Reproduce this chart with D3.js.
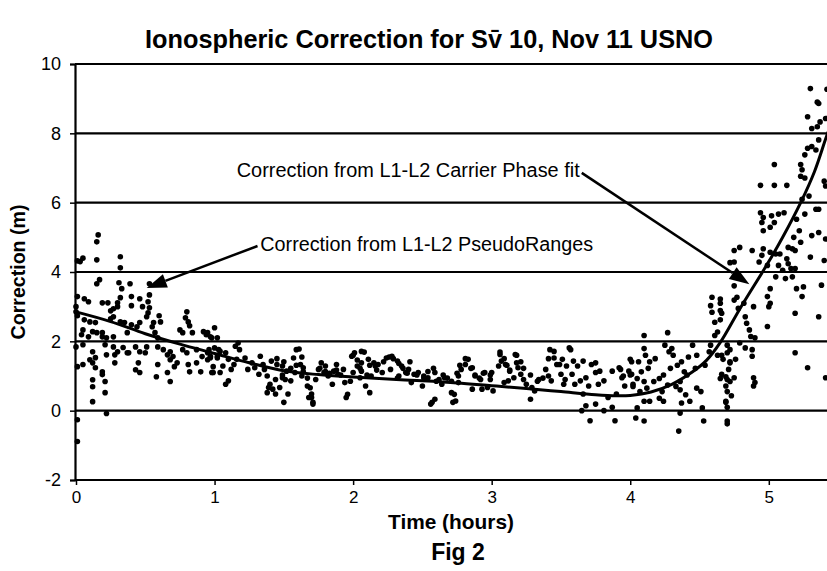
<!DOCTYPE html>
<html>
<head>
<meta charset="utf-8">
<script src="https://cdn.jsdelivr.net/npm/d3@7"></script>
<style>
  body { margin: 0; background: #fff; }
  svg { display: block; font-family: Arial, "Liberation Sans", sans-serif; }
</style>
</head>
<body>
<div id="chart"></div>
<script>
// axis ticks
var xTicks = [0, 1, 2, 3, 4, 5];
var yTicks = [-2, 0, 2, 4, 6, 8, 10];

// carrier phase fit (hours, metres)
var fitTimes  = [0, 0.25, 0.5, 0.75, 1, 1.25, 1.5, 1.75, 2, 2.25, 2.5, 2.75, 3, 3.25, 3.5, 3.75, 3.9, 4, 4.15, 4.3, 4.45, 4.55, 4.65, 4.8, 5, 5.1, 5.23, 5.33, 5.42, 5.5];
var fitValues = [2.85, 2.57, 2.22, 1.92, 1.65, 1.38, 1.15, 1.04, 0.97, 0.91, 0.86, 0.8, 0.72, 0.64, 0.55, 0.46, 0.43, 0.44, 0.54, 0.76, 1.12, 1.45, 1.97, 3.0, 4.3, 5.0, 6.0, 6.9, 7.95, 8.8];

// L1-L2 pseudorange corrections, [hours, metres]
var pseudoRangeHour0 = [
  [0.16,5.07],[0.15,4.87],[0.05,4.40],[0.03,4.30],[0.01,4.32],[0.15,4.35],[0.32,4.44],[0.32,4.12],[0.17,3.78],[0.15,3.66],
  [0.31,3.69],[0.39,3.66],[0.33,3.52],[0.53,3.66],[0.53,3.34],[0.01,3.29],[0.06,3.23],[0.09,3.14],[0.19,3.11],[0.23,3.11],
  [0.32,3.26],[0.30,3.11],[0.30,3.00],[0.27,2.94],[0.25,2.88],[0.40,3.29],[0.46,3.23],[0.40,3.03],[0.48,3.00],[0.52,3.14],
  [0.53,2.97],[0.52,2.82],[0.51,2.71],[0.00,3.00],[0.00,2.85],[0.01,2.74],[0.60,2.74],[0.61,2.56],[0.56,2.54],[0.55,2.42],
  [0.80,2.85],[0.79,2.68],[0.81,2.56],[0.82,2.45],[0.27,2.71],[0.25,2.65],[0.06,2.62],[0.10,2.56],[0.14,2.54],[0.32,2.56],
  [0.35,2.54],[0.40,2.48],[0.44,2.42],[0.46,2.54],[0.05,2.33],[0.12,2.28],[0.15,2.25],[0.19,2.25],[0.04,2.19],[0.09,2.13],
  [0.37,2.25],[0.27,2.13],[0.22,2.10],[0.19,2.13],[0.57,2.25],[0.59,2.10],[0.75,2.33],[0.77,2.25],[0.84,2.25],[0.92,2.28],
  [0.95,2.25],[1.00,2.39],[0.97,2.13],[1.02,2.10],[0.00,1.84],[0.05,1.90],[0.12,1.70],[0.21,1.90],[0.27,1.84],[0.30,1.70],
  [0.34,1.82],[0.38,1.67],[0.43,1.84],[0.46,1.70],[0.50,1.67],[0.51,1.84],[0.59,1.84],[0.63,1.76],[0.66,1.61],[0.68,1.47],
  [0.70,1.56],[0.73,1.38],[0.68,1.70],[0.77,1.76],[0.80,1.67],[0.87,1.76],[0.91,1.56],[0.95,1.67],[0.97,1.53],[1.02,1.56],
  [1.03,1.76],[0.01,1.27],[0.05,1.33],[0.10,1.47],[0.14,1.53],[0.12,1.38],[0.14,1.24],[0.19,1.12],[0.19,1.04],[0.21,0.84],
  [0.22,1.61],[0.28,1.61],[0.28,1.38],[0.37,1.67],[0.45,1.38],[0.43,1.18],[0.46,1.10],[0.59,1.33],[0.58,0.98],[0.66,1.10],
  [0.68,0.84],[0.71,1.27],[0.81,1.33],[0.82,1.12],[0.90,1.12],[0.87,1.38],[0.95,1.47],[0.99,1.27],[0.99,1.10],[0.12,0.89],
  [0.12,0.69],[0.12,0.26],[0.21,0.52],[0.01,-0.26],[0.22,-0.08],[0.01,-0.89]
];
var pseudoRangeHour1 = [
  [0.94,2.19],[0.98,2.10],[0.96,1.76],[1.00,1.81],[1.04,1.71],[0.97,1.57],[1.02,1.52],[1.08,1.67],[1.10,1.48],[1.15,1.86],
  [1.17,1.95],[1.18,1.76],[1.16,1.48],[0.98,1.10],[1.04,1.10],[1.10,0.86],[1.08,0.76],[1.12,1.19],[1.06,1.29],[1.14,1.33],
  [1.22,1.52],[1.27,1.38],[1.29,1.24],[1.33,1.57],[1.35,1.33],[1.38,1.00],[1.40,0.76],[1.42,0.62],[1.38,0.52],[1.44,0.48],
  [1.47,0.67],[1.50,0.24],[1.45,1.33],[1.49,1.29],[1.52,1.14],[1.41,1.43],[1.36,1.19],[1.24,1.19],[1.32,1.05],[1.51,0.90],
  [1.49,0.95],[1.44,0.90],[1.53,0.48],[1.39,0.67],[1.57,1.52],[1.59,1.76],[1.62,1.33],[1.64,1.24],[1.58,1.10],[1.63,1.00],
  [1.55,0.86],[1.67,0.71],[1.70,0.48],[1.71,0.24],[1.68,0.38],[1.75,1.19],[1.79,1.10],[1.82,1.00],[1.86,1.14],[1.89,1.05],
  [1.93,1.19],[1.77,1.38],[1.80,1.29],[1.88,1.33],[1.73,0.90],[1.85,0.76],[1.94,0.81],[1.45,1.50],[1.50,1.41],[1.55,1.22],
  [1.49,1.03],[1.61,1.78],[1.63,1.55],[1.59,1.31],[1.64,1.13],[1.67,0.94],[1.69,0.66],[1.70,0.38],[1.71,0.19],[1.76,1.22],
  [1.80,1.13],[1.83,1.08],[1.88,1.17],[1.91,1.03],[1.96,0.47],[1.98,0.85]
];
var pseudoRangeHour2 = [
  [1.99,1.57],[2.01,1.67],[2.06,1.71],[2.03,1.29],[2.06,1.38],[2.11,1.48],[2.15,1.38],[2.18,1.33],[2.24,1.52],[2.28,1.57],
  [2.32,1.43],[2.35,1.29],[2.00,1.10],[2.05,0.95],[2.09,0.71],[2.12,0.52],[1.95,0.38],[2.13,1.00],[2.21,1.10],[2.27,1.19],
  [2.33,1.00],[2.38,1.10],[2.16,1.29],[2.06,1.14],[2.40,1.19],[2.44,1.05],[2.47,1.10],[2.51,1.00],[2.54,0.95],[2.59,1.10],
  [2.62,0.90],[2.42,0.81],[2.50,0.71],[2.57,0.24],[2.59,0.33],[2.71,0.52],[2.72,0.24],[2.76,0.81],[2.78,1.19],[2.81,1.33],
  [2.83,1.48],[2.86,1.24],[2.88,1.00],[2.92,0.90],[2.95,1.10],[2.66,0.95],[2.64,0.76],[2.76,1.00],[2.93,0.62],[2.86,0.62],
  [2.00,1.60],[2.03,1.46],[2.08,1.69],[2.05,1.22],[2.10,1.03],[2.12,1.31],[2.17,1.17],[2.22,1.41],[2.26,1.55],[2.29,1.50],
  [2.33,1.36],[2.36,1.22],[2.39,1.08],[2.32,0.94],[2.41,1.41],[2.46,1.03],[2.51,0.94],[2.54,1.13],[2.58,1.22],[2.60,0.85],
  [2.65,1.03],[2.68,0.94],[2.71,0.85],[2.73,0.47],[2.74,0.28],[2.75,1.08],[2.77,1.31],[2.81,1.50],[2.85,1.22],[2.88,1.03],
  [2.91,0.94],[2.94,1.08],[2.99,1.03],[2.56,0.19]
];
var pseudoRangeHour3 = [
  [3.06,1.69],[3.09,1.50],[3.11,1.31],[3.13,1.17],[3.18,1.60],[3.21,1.41],[3.23,1.22],[3.28,1.03],[3.33,0.85],[3.37,0.94],
  [3.41,1.50],[3.06,1.62],[3.07,1.43],[3.05,1.29],[3.10,1.33],[3.13,1.14],[3.17,1.62],[3.18,1.38],[3.19,1.24],[3.21,1.05],
  [3.16,0.95],[3.12,0.86],[3.09,0.81],[3.00,1.10],[2.99,0.90],[2.97,0.67],[3.01,0.57],[3.23,0.90],[3.25,0.76],[3.29,0.67],
  [3.31,0.57],[3.34,0.90],[3.28,0.33],[3.42,1.76],[3.45,1.52],[3.47,1.33],[3.51,1.48],[3.54,1.29],[3.56,1.81],[3.59,1.43],
  [3.62,1.29],[3.39,1.19],[3.41,1.00],[3.43,0.86],[3.50,1.05],[3.53,0.90],[3.52,0.76],[3.58,1.05],[3.60,0.76],[3.64,0.86],
  [3.68,0.95],[3.72,1.33],[3.75,1.10],[3.78,1.14],[3.81,0.86],[3.77,0.76],[3.70,0.71],[3.66,0.48],[3.65,0.00],[3.68,0.14],
  [3.71,-0.29],[3.75,0.19],[3.81,0.00],[3.87,0.10],[3.89,-0.29],[3.92,1.24],[3.94,0.95],[3.96,0.71],[4.00,1.48],[3.99,1.14],
  [4.01,1.05],[4.02,0.76],[3.90,0.48],[3.84,0.38],[3.45,1.71],[3.57,1.76],[3.49,1.33],[3.66,1.43],[3.75,1.38],[3.87,1.14],
  [3.93,1.19],[3.95,1.00]
];
var pseudoRangeHour4 = [
  [4.10,2.17],[4.10,1.79],[4.27,2.25],[4.25,1.89],[4.28,1.70],[4.31,1.60],[4.30,1.79],[4.01,1.41],[4.06,1.41],[4.11,1.60],
  [4.14,1.41],[4.18,1.50],[4.13,1.22],[4.08,1.12],[4.00,1.03],[4.05,0.93],[4.10,0.84],[4.02,0.70],[4.07,0.55],[4.12,0.65],
  [4.17,0.84],[4.21,0.93],[4.24,1.03],[4.29,1.22],[4.34,1.31],[4.37,1.41],[4.42,1.55],[4.39,1.12],[4.45,1.89],[4.48,1.60],
  [4.47,1.22],[4.41,1.03],[4.36,0.84],[4.33,0.70],[4.27,0.74],[4.23,0.55],[4.21,0.36],[4.14,0.27],[4.10,0.27],[4.05,0.08],
  [4.04,-0.21],[4.10,-0.30],[4.24,0.27],[4.36,0.60],[4.40,0.46],[4.43,0.27],[4.37,0.22],[4.36,-0.07],[4.35,-0.59],[4.48,0.65],
  [4.51,0.55],[4.52,0.08],[4.53,-0.30],[4.54,1.31],[4.58,1.89],[4.57,1.70],[4.61,2.17],[4.63,1.60],[4.66,1.60],[4.70,1.89],
  [4.72,1.41],[4.69,0.98],[4.65,0.93],[4.72,0.84],[4.70,0.55],[4.69,0.27],[4.70,-0.30],[4.63,2.27],[4.59,3.27],[4.58,3.03],
  [4.59,2.84],[4.61,2.55],[4.65,3.22],[4.65,2.89],[4.72,4.27],[4.75,3.60],[4.77,3.27],[4.75,4.62],[4.79,4.71],[4.88,4.62],
  [4.95,4.48],[4.75,4.29],[4.93,4.29],[4.89,3.00],[4.65,3.10],[4.66,2.81],[4.65,2.62],[4.75,3.19],[4.82,3.10],[4.78,2.95],
  [4.83,2.71],[4.84,2.52],[4.86,2.33],[4.87,2.14],[4.90,2.10],[4.79,1.95],[4.83,1.81],[4.88,1.76],[4.88,1.57],[4.72,1.76],
  [4.70,1.67],[4.67,1.48],[4.72,1.38],[4.76,1.48],[4.71,1.19],[4.75,0.95],[4.70,0.90],[4.66,1.05],[4.69,0.71],[4.73,0.43],
  [4.69,0.24],[4.70,0.10],[4.70,-0.38],[4.89,0.95],[4.90,0.81],[4.89,0.71],[4.94,6.50],[4.94,5.71],[4.96,5.57],[4.95,5.43],
  [4.96,5.19],[4.96,4.67],[4.99,4.19],[4.99,3.29],[4.99,2.43]
];
var pseudoRangeHour5 = [
  [5.30,9.29],[5.42,9.27],[5.35,8.90],[5.36,8.86],[5.28,8.48],[5.37,8.33],[5.35,8.19],[5.31,8.14],[5.41,8.43],[5.36,7.81],
  [5.31,7.62],[5.28,7.57],[5.34,7.52],[5.26,7.38],[5.04,7.10],[5.23,7.10],[5.24,6.95],[5.23,6.76],[5.26,6.71],[5.04,6.50],
  [5.13,6.50],[5.40,6.62],[5.41,6.48],[5.29,6.19],[5.24,6.10],[5.02,5.62],[5.07,5.67],[5.11,5.71],[5.04,5.43],[5.01,5.29],
  [5.20,5.52],[5.26,5.67],[5.34,5.81],[5.36,5.81],[5.22,5.19],[5.18,5.00],[5.23,4.86],[5.14,4.71],[5.17,4.67],[5.19,4.62],
  [5.31,5.05],[5.36,5.14],[5.41,4.95],[5.01,4.57],[5.05,4.52],[5.30,4.43],[5.40,4.33],[5.07,4.19],[5.14,4.24],[5.16,4.10],
  [5.19,4.10],[5.10,4.05],[5.05,3.86],[5.12,3.81],[5.17,3.86],[5.25,3.57],[5.20,3.52],[5.24,3.29],[5.38,3.62],[5.01,3.52],
  [5.01,3.10],[5.00,3.00],[5.19,2.81],[5.36,2.71],[5.19,1.67],[5.28,1.24],[5.41,0.95],[5.08,4.52],[5.13,4.38]
];

// annotation text and arrows, in data units (hours, metres)
var annotations = [
  { text: "Correction from L1-L2 Carrier Phase fit", at: [1.16, 6.74], width: 343, from: [3.65, 6.86], to: [4.86, 3.65] },
  { text: "Correction from L1-L2 PseudoRanges",      at: [1.33, 4.61], width: 333, from: [1.31, 4.75], to: [0.51, 3.54] }
];

plot_correction_chart("#chart", 827, 571);

// shrink / grow a text so it fills the width measured in the scan
function fitWidth(sel, target) {
    var w = sel.node().getComputedTextLength();
    var fs = parseFloat(sel.attr("font-size"));
    sel.attr("font-size", (fs * target / w).toFixed(2));
}

function plot_correction_chart(htmlObjectId, width, height) {

    var left = 76, right = 827, top = 64, bottom = 480;

    var xScale = d3.scaleLinear()
                    .domain([0, 5.42])
                    .range([left, right]);

    var yScale = d3.scaleLinear()
                    .domain([-2, 10])
                    .range([bottom, top]);

    var svg = d3.select(htmlObjectId)
                .append("svg")
                .attr("width", width)
                .attr("height", height);

    svg.append("rect")
        .attr("width", width)
        .attr("height", height)
        .attr("fill", "#fff");

    // title
    var title = svg.append("text")
        .attr("x", 429)
        .attr("y", 48)
        .attr("text-anchor", "middle")
        .attr("font-size", 21)
        .attr("font-weight", "bold")
        .text("Ionospheric Correction for Sv\u0304 10, Nov 11 USNO");
    fitWidth(title, 568);

    // horizontal grid lines (the -2 one is the bottom axis)
    svg.append("g")
        .selectAll("line")
        .data(yTicks)
      .enter().append("line")
        .attr("x1", left - 1)
        .attr("x2", right)
        .attr("y1", function(d) { return yScale(d); })
        .attr("y2", function(d) { return yScale(d); })
        .attr("stroke", "#000")
        .attr("stroke-width", 2.2);

    // left axis, plain hyphen for negatives as in the scan
    var yaxis = d3.axisLeft(yScale)
                .tickValues(yTicks)
                .tickSize(5)
                .tickPadding(9)
                .tickFormat(function(d) { return String(d); });

    var gy = svg.append("g")
        .attr("transform", "translate(" + (left - 1) + ",0)")
        .call(yaxis);
    gy.select(".domain").attr("stroke", "#000").attr("stroke-width", 2.2);
    gy.selectAll(".tick line").attr("stroke", "#000").attr("stroke-width", 1.5);
    gy.selectAll("text")
        .attr("font-size", 18)
        .attr("font-family", "Arial, 'Liberation Sans', sans-serif")
        .attr("fill", "#000");

    // bottom axis ticks and labels
    var xaxis = d3.axisBottom(xScale)
                .tickValues(xTicks)
                .tickSize(5)
                .tickPadding(6)
                .tickFormat(function(d) { return String(d); });

    var gx = svg.append("g")
        .attr("transform", "translate(0," + bottom + ")")
        .call(xaxis);
    gx.select(".domain").remove();
    gx.selectAll(".tick line").attr("stroke", "#000").attr("stroke-width", 1.5);
    gx.selectAll("text")
        .attr("font-size", 17)
        .attr("font-family", "Arial, 'Liberation Sans', sans-serif")
        .attr("fill", "#000");

    // axis titles
    var yLabel = svg.append("text")
        .attr("transform", "translate(25,272) rotate(-90)")
        .attr("text-anchor", "middle")
        .attr("font-size", 17)
        .attr("font-weight", "bold")
        .text("Correction (m)");
    fitWidth(yLabel, 135);

    var xLabel = svg.append("text")
        .attr("x", 451)
        .attr("y", 529)
        .attr("text-anchor", "middle")
        .attr("font-size", 18)
        .attr("font-weight", "bold")
        .text("Time (hours)");
    fitWidth(xLabel, 126);

    svg.append("text")
        .attr("x", 458)
        .attr("y", 560)
        .attr("text-anchor", "middle")
        .attr("font-size", 23)
        .attr("font-weight", "bold")
        .text("Fig 2");

    // scatter of pseudorange corrections
    var points = pseudoRangeHour0.concat(pseudoRangeHour1, pseudoRangeHour2,
                                         pseudoRangeHour3, pseudoRangeHour4, pseudoRangeHour5);

    svg.append("g")
        .selectAll("circle")
        .data(points)
      .enter().append("circle")
        .attr("cx", function(d) { return xScale(d[0]); })
        .attr("cy", function(d) { return yScale(d[1]); })
        .attr("r", 2.8)
        .attr("fill", "#000");

    // carrier phase fit curve
    var line = d3.line()
        .x(function(d) { return xScale(d[0]); })
        .y(function(d) { return yScale(d[1]); })
        .curve(d3.curveCatmullRom);

    svg.append("path")
        .datum(d3.zip(fitTimes, fitValues))
        .attr("d", line)
        .attr("fill", "none")
        .attr("stroke", "#000")
        .attr("stroke-width", 3);

    // annotations with arrows
    annotations.forEach(function(a) {
        var t = svg.append("text")
            .attr("x", xScale(a.at[0]))
            .attr("y", yScale(a.at[1]))
            .attr("font-size", 16)
            .attr("fill", "#000")
            .text(a.text);
        fitWidth(t, a.width);

        var x1 = xScale(a.from[0]), y1 = yScale(a.from[1]);
        var x2 = xScale(a.to[0]),   y2 = yScale(a.to[1]);
        var ang = Math.atan2(y2 - y1, x2 - x1);
        var len = 20, half = 7;
        var bx = x2 - len * Math.cos(ang), by = y2 - len * Math.sin(ang);

        svg.append("line")
            .attr("x1", x1).attr("y1", y1)
            .attr("x2", bx).attr("y2", by)
            .attr("stroke", "#000")
            .attr("stroke-width", 2.5);

        svg.append("polygon")
            .attr("points", [
                [x2, y2],
                [bx + half * Math.sin(ang), by - half * Math.cos(ang)],
                [bx - half * Math.sin(ang), by + half * Math.cos(ang)]
            ].map(function(p) { return p.join(","); }).join(" "))
            .attr("fill", "#000");
    });
}
</script>
</body>
</html>
